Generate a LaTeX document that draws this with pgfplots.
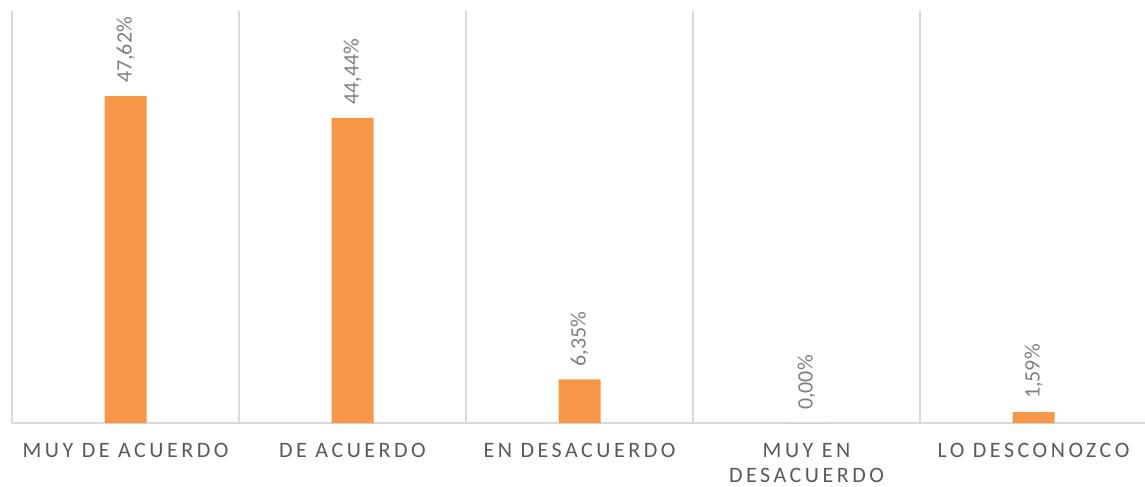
\documentclass[border=0pt]{standalone}
\usepackage{fontspec}
\setmainfont{Carlito}
\newfontfamily\tickfont[LetterSpace=16]{Carlito}
\usepackage{pgfplots}
\pgfplotsset{compat=1.18}
\definecolor{barorange}{HTML}{F79646}
\definecolor{gridgray}{HTML}{D9D9D9}
\definecolor{ticktext}{HTML}{595959}
\definecolor{labeltext}{HTML}{7F7F7F}

\begin{document}
\begin{tikzpicture}
\begin{axis}[
    name=ax,
    scale only axis,
    width=1135bp, height=412bp,
    xmin=-0.5, xmax=4.5,
    ymin=0, ymax=60,
    axis x line=bottom,
    axis y line=none,
    x axis line style={draw=gridgray, line width=1.5bp, -},
    xtick={0,1,2,3,4},
    xticklabels={MUY DE ACUERDO, DE ACUERDO, EN DESACUERDO, MUY EN\\DESACUERDO, LO DESCONOZCO},
    xticklabel style={font=\tickfont\fontsize{22bp}{25bp}\selectfont, text=ticktext,
        align=center, anchor=north, inner sep=0pt, yshift=-20bp},
    major tick length=0pt, minor tick length=0pt,
    minor xtick={-0.5,0.5,1.5,2.5,3.5},
    xminorgrids,
    minor grid style={draw=gridgray, line width=1.5bp},
    ytick=\empty,
    ybar, bar width=42bp,
    nodes near coords={\pgfmathprintnumber[fixed, fixed zerofill, precision=2, use comma, assume math mode=true]{\pgfplotspointmeta}\%},
    every node near coord/.append style={rotate=90, anchor=west, inner xsep=13bp, inner ysep=0pt,
        font=\fontsize{22bp}{25bp}\selectfont, text=labeltext},
    clip=false,
]
\addplot[fill=barorange, draw=none] coordinates {(0,47.62) (1,44.44) (2,6.35) (3,0) (4,1.59)};
\end{axis}
\pgfresetboundingbox
\path ([shift={(-12bp,-63bp)}]ax.south west) rectangle ([shift={(-2bp,11bp)}]ax.north east);
\end{tikzpicture}
\end{document}
